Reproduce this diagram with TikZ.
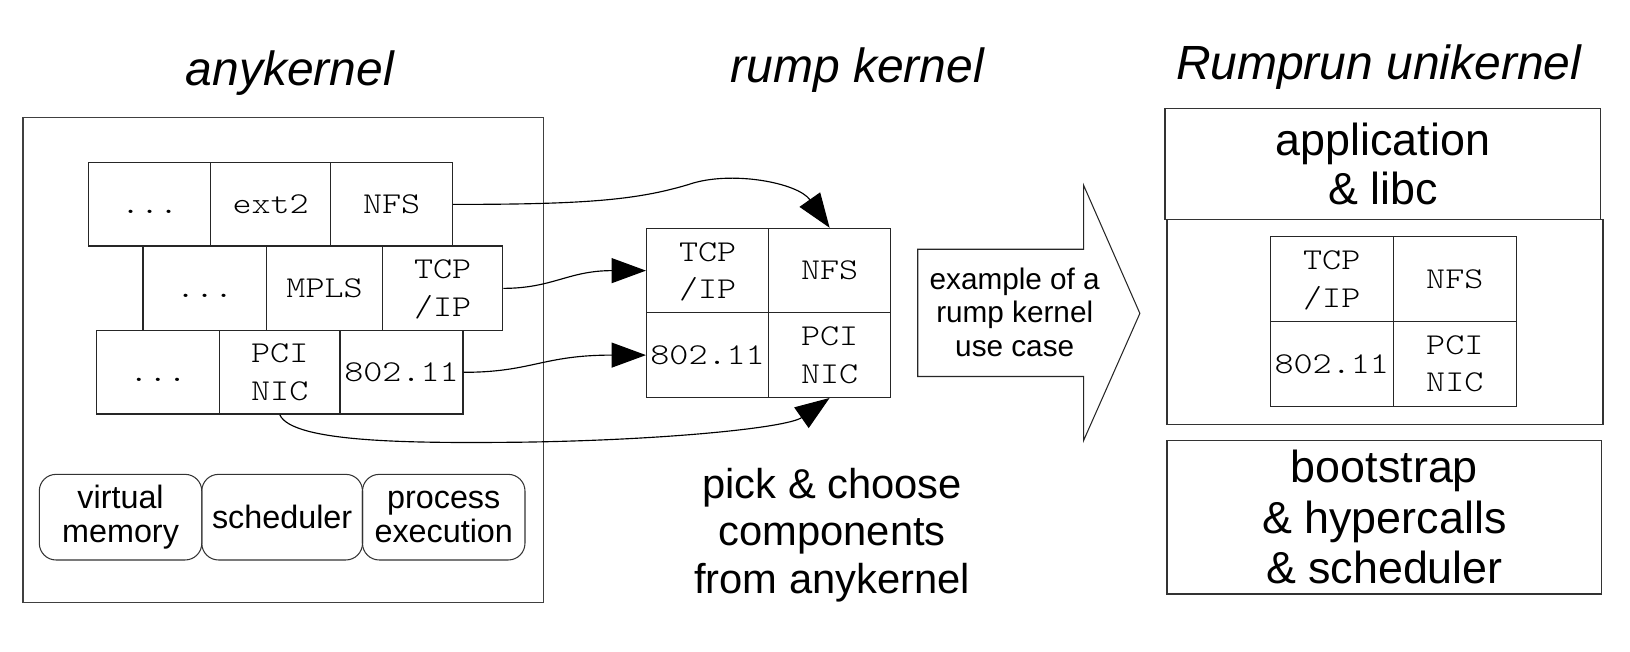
\documentclass[tikz,border=0pt]{standalone}
\usepackage{fontspec}
\setmainfont{Liberation Sans}
\newfontfamily\monof{lmmonolt10-regular.otf}[FakeStretch=1.2]
\usetikzlibrary{arrows.meta}
\begin{document}
\begin{tikzpicture}[x=1pt,y=-1pt,
  cell/.style={draw=black!85, line width=1.2pt, inner sep=0pt, align=center, font=\monof\fontsize{29}{36}\selectfont},
  mem/.style={draw=black!80, line width=1pt, rounded corners=16pt, inner sep=0pt, align=center, font=\fontsize{31}{33}\selectfont},
  bigbox/.style={draw=black!80, line width=1.2pt, inner sep=0pt, align=center},
  title/.style={anchor=base, inner sep=0pt, font=\itshape\fontsize{46}{50}\selectfont},
  conn/.style={draw=black, line width=1.1pt, -{Triangle[length=33pt,width=24pt]}},
  plain/.style={inner sep=0pt, align=center}]
\useasboundingbox (0,0) rectangle (1563,625);
\fill[white] (0,0) rectangle (1563,625);

% titles
\node[title] (t1) at (278,81.5) {anykernel};
\node[title] (t2) at (822,79.5) {rump kernel};
\node[title] (t3) at (1322,76) {Rumprun unikernel};

% anykernel box
\node[draw=black!75, line width=1.3pt, minimum width=499pt, minimum height=465pt, inner sep=0pt] (anyk) at (271.5,345) {};

% row 1
\node[cell, minimum width=117pt, minimum height=80pt] (r1a) at (143.5,196) {\vphantom{N}...};
\node[cell, minimum width=115pt, minimum height=80pt] (r1b) at (259.5,196) {ext2};
\node[cell, minimum width=117pt, minimum height=80pt] (r1c) at (375.5,196) {NFS};
% row 2
\node[cell, minimum width=118.5pt, minimum height=81pt] (r2a) at (196.25,276.5) {\vphantom{N}...};
\node[cell, minimum width=111.5pt, minimum height=81pt] (r2b) at (311.25,276.5) {MPLS};
\node[cell, minimum width=115pt, minimum height=81pt] (r2c) at (424.5,276.5) {TCP\\\smash{/}IP};
% row 3
\node[cell, minimum width=118pt, minimum height=80pt] (r3a) at (151.5,357) {\vphantom{N}...};
\node[cell, minimum width=115.5pt, minimum height=80pt] (r3b) at (268.25,357) {PCI\\NIC};
\node[cell, minimum width=118pt, minimum height=80pt] (r3c) at (385,357) {802.11};

% memory boxes
\node[mem, minimum width=155.8pt, minimum height=82.1pt] (m1) at (115.6,495.9) {virtual\\memory};
\node[mem, minimum width=154.1pt, minimum height=82.1pt] (m2) at (270.55,495.9) {scheduler};
\node[mem, minimum width=155.8pt, minimum height=82.1pt] (m3) at (425.5,495.9) {process\\execution};

% rump kernel
\node[cell, minimum width=117pt, minimum height=81pt] (k1) at (678.5,259.5) {TCP\\\smash{/}IP};
\node[cell, minimum width=117pt, minimum height=81pt] (k2) at (795.5,259.5) {NFS};
\node[cell, minimum width=117pt, minimum height=81pt] (k3) at (678.5,340.5) {802.11};
\node[cell, minimum width=117pt, minimum height=81pt] (k4) at (795.5,340.5) {PCI\\NIC};

\node[plain, font=\fontsize{40}{45.5}\selectfont] (pick) at (798,513) {pick \& choose\\components\\from anykernel};

% big arrow
\draw[draw=black!85, line width=1pt, fill=white] (880,239) -- (1039,239) -- (1039,177.5) -- (1093,300.5) -- (1039,422.5) -- (1039,361) -- (880,361) -- cycle;
\node[plain, font=\fontsize{28.5}{32.3}\selectfont] (ex) at (973,299.3) {example of a\\rump kernel\\use case};

% rumprun unikernel
\node[bigbox, minimum width=418pt, minimum height=106.5pt, font=\fontsize{43}{47}\selectfont] (app) at (1326,157.25) {application\\\& libc};
\node[bigbox, minimum width=418pt, minimum height=196.5pt] (mid) at (1328,308.75) {};
\node[cell, minimum width=118pt, minimum height=81.5pt] (u1) at (1277,267.75) {TCP\\\smash{/}IP};
\node[cell, minimum width=118pt, minimum height=81.5pt] (u2) at (1395,267.75) {NFS};
\node[cell, minimum width=118pt, minimum height=81pt] (u3) at (1277,349) {802.11};
\node[cell, minimum width=118pt, minimum height=81pt] (u4) at (1395,349) {PCI\\NIC};
\node[bigbox, minimum width=417pt, minimum height=147pt, font=\fontsize{43}{48.5}\selectfont] (boot) at (1327.5,496) {bootstrap\\\& hypercalls\\\& scheduler};

% connectors
\draw[conn] (r1c.east) .. controls (560,196) and (610,192) .. (660,177) .. controls (700,163) and (765,175) .. (k2.north);
\draw[conn] (r2c.east) .. controls (530,276.5) and (545,259.5) .. (k1.west);
\draw[conn] (r3c.east) .. controls (510,357) and (520,340.5) .. (k3.west);
\draw[conn] (r3b.south) .. controls (280,425) and (400,425) .. (500,424) .. controls (640,422) and (755,410) .. (k4.south);
\end{tikzpicture}
\end{document}
